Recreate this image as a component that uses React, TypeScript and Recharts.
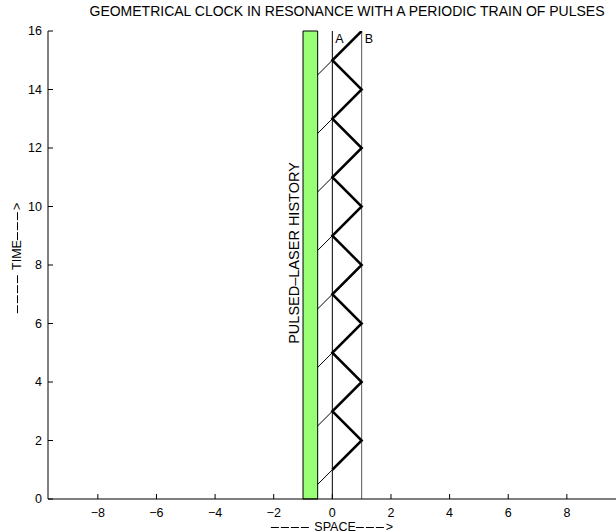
import React from "react";
import {
  ComposedChart,
  Line,
  XAxis,
  YAxis,
  ReferenceArea,
  ReferenceLine,
} from "recharts";

// axis ticks
const xTicks = [-8, -6, -4, -2, 0, 2, 4, 6, 8];
const yTicks = [0, 2, 4, 6, 8, 10, 12, 14, 16];

// laser bar edges and mirror positions
const laserLeft = -1;
const laserRight = -0.5;
const mirrorA = 0;
const mirrorB = 1;

// clock light path bouncing between A and B
const clockX = [0, 1, 0, 1, 0, 1, 0, 1, 0, 1, 0, 1, 0, 1, 0, 1];
const clockT = [1, 2, 3, 4, 5, 6, 7, 8, 9, 10, 11, 12, 13, 14, 15, 16];

// pulses leaving the laser and reaching mirror A
const pulseStartT = [0.5, 2.5, 4.5, 6.5, 8.5, 10.5, 12.5, 14.5];
const pulseEndT = [1, 3, 5, 7, 9, 11, 13, 15];

const clockData = clockX.map((x, i) => ({ x, y: clockT[i] }));

const FONT = '"Liberation Sans", Arial, Helvetica, sans-serif';

const fmtTick = (v: number) => (v < 0 ? `\u2212${Math.abs(v)}` : `${v}`);

// MATLAB-style long dashes in the axis labels
function Dashes({ n }: { n: number }) {
  return (
    <>
      {Array.from({ length: n }, (_, i) => (
        <span
          key={i}
          style={{
            display: "inline-block",
            width: 8,
            height: 0,
            borderTop: "1px solid #000",
            marginRight: 2,
            verticalAlign: "middle",
          }}
        />
      ))}
    </>
  );
}

export default function App() {
  return (
    <div
      style={{
        position: "absolute",
        left: 0,
        top: 0,
        width: 616,
        height: 531,
        overflow: "hidden",
        background: "#fff",
        fontFamily: FONT,
        color: "#000",
      }}
    >
      <ComposedChart
        width={660}
        height={531}
        margin={{ top: 31, right: 14, bottom: 0, left: 0 }}
        style={{ fontFamily: FONT }}
      >
        <XAxis
          type="number"
          dataKey="x"
          domain={[-9.7, 10.7]}
          allowDataOverflow
          ticks={xTicks}
          interval={0}
          tickFormatter={fmtTick}
          tickSize={-5}
          tickMargin={14}
          height={32}
          stroke="#000"
          tick={{ fill: "#000", fontSize: 12.5 }}
        />
        <YAxis
          type="number"
          dataKey="y"
          domain={[0, 16]}
          allowDataOverflow
          ticks={yTicks}
          interval={0}
          tickSize={-5}
          tickMargin={11}
          width={48}
          stroke="#000"
          tick={{ fill: "#000", fontSize: 12.5 }}
        />
        <ReferenceArea
          x1={laserLeft}
          x2={laserRight}
          y1={0}
          y2={16}
          fill="#99ff77"
          fillOpacity={1}
          stroke="#000"
          strokeWidth={1}
        />
        <ReferenceLine
          x={mirrorA}
          stroke="#000"
          strokeWidth={1}
          label={{ value: "A", position: "insideTopLeft", offset: 3, fill: "#000", fontSize: 12.5 }}
        />
        <ReferenceLine
          x={mirrorB}
          stroke="#555"
          strokeWidth={1}
          label={{ value: "B", position: "insideTopLeft", offset: 3, fill: "#000", fontSize: 12.5 }}
        />
        {pulseStartT.map((t, i) => (
          <ReferenceLine
            key={i}
            segment={[
              { x: laserRight, y: t },
              { x: mirrorA, y: pulseEndT[i] },
            ]}
            stroke="#000"
            strokeWidth={1}
          />
        ))}
        <Line
          data={clockData}
          dataKey="y"
          type="linear"
          stroke="#000"
          strokeWidth={2.5}
          dot={false}
          activeDot={false}
          isAnimationActive={false}
        />
      </ComposedChart>

      <div
        style={{
          position: "absolute",
          left: 0,
          width: 694,
          top: 3,
          textAlign: "center",
          fontSize: 14,
          lineHeight: "16px",
          whiteSpace: "nowrap",
        }}
      >
        GEOMETRICAL CLOCK IN RESONANCE WITH A PERIODIC TRAIN OF PULSES
      </div>

      <div
        style={{
          position: "absolute",
          left: 294,
          top: 253,
          transform: "translate(-50%, -50%) rotate(-90deg)",
          fontSize: 14.5,
          lineHeight: "15px",
          whiteSpace: "nowrap",
        }}
      >
        PULSED{"\u2013"}LASER HISTORY
      </div>

      <div
        style={{
          position: "absolute",
          left: 17,
          top: 258,
          transform: "translate(-50%, -50%) rotate(-90deg)",
          fontSize: 12.5,
          lineHeight: "14px",
          whiteSpace: "nowrap",
        }}
      >
        <Dashes n={4} /> TIME<Dashes n={3} />&gt;
      </div>

      <div
        style={{
          position: "absolute",
          left: 332,
          top: 527,
          transform: "translate(-50%, -50%)",
          fontSize: 12.5,
          lineHeight: "14px",
          whiteSpace: "nowrap",
        }}
      >
        <Dashes n={4} /> SPACE<Dashes n={3} />&gt;
      </div>
    </div>
  );
}
